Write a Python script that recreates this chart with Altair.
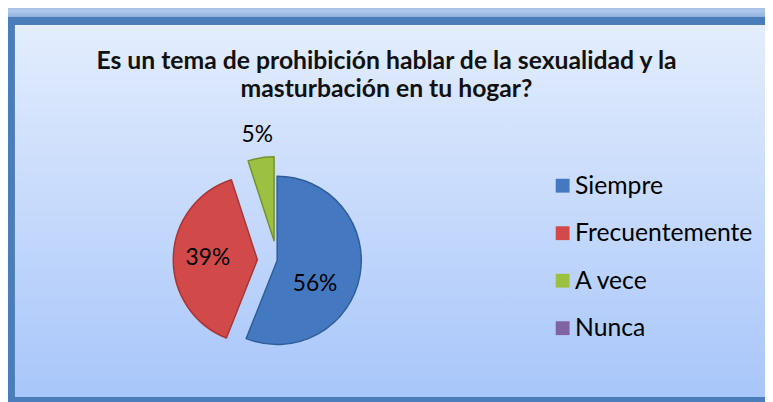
import altair as alt
import pandas as pd

# ---- data ----
title_lines = ["Es un tema de prohibición hablar de la sexualidad y la",
               "masturbación en tu hogar?"]
categories = ["Siempre", "Frecuentemente", "A vece", "Nunca"]
values = [56, 39, 5, 0]

# ---- styles ----
colors = ["#4479c2", "#d2494a", "#9cc142", "#8064a2"]
edge_colors = ["#2f5d99", "#a83634", "#73912d", "#5e4a7d"]
explode = [0, 20, 20, 0]          # px the slice is pulled out
label_radius = [45, 50, 108, 0]   # px from slice apex
label_turn = [21, 0, 0, 0]        # degrees turned from mid angle
FONT = "Lato"

W, H = 765, 394
CX, CY, R = 272, 253, 85

df = pd.DataFrame({
    "cat": categories, "value": values, "ord": list(range(len(categories))),
    "explode": explode, "lr": label_radius, "turn": label_turn,
})

base = alt.Chart(df).transform_joinaggregate(
    total="sum(value)"
).transform_window(
    cum="sum(value)", sort=[alt.SortField("ord")], frame=[None, 0]
).transform_calculate(
    t0="2*PI*(datum.cum - datum.value)/datum.total",
    t1="2*PI*datum.cum/datum.total",
    mid="(datum.t0 + datum.t1)/2",
    px=f"{CX} + datum.explode*sin(datum.mid)",
    py=f"{CY} - datum.explode*cos(datum.mid)",
    la="datum.mid + datum.turn*PI/180",
    lx="datum.px + datum.lr*sin(datum.la)",
    ly="datum.py - datum.lr*cos(datum.la)",
    label="datum.value + '%'",
)

pos = dict(
    theta=alt.Theta("t0:Q", scale=None),
    theta2="t1:Q",
    x=alt.X("px:Q", scale=None, axis=None, stack=None),
    y=alt.Y("py:Q", scale=None, axis=None, stack=None),
)

arcs = base.transform_filter("datum.value > 0").mark_arc(
    outerRadius=R, strokeWidth=1.5, strokeJoin="round"
).encode(
    color=alt.Color(
        "cat:N",
        scale=alt.Scale(domain=categories, range=colors),
        sort=categories,
        legend=alt.Legend(
            orient="none", legendX=548, legendY=165, title=None,
            symbolType="square", symbolSize=196, symbolStrokeWidth=0,
            labelFont=FONT, labelFontSize=25, labelColor="#000000",
            labelOffset=0, rowPadding=22, labelLimit=400,
        ),
    ),
    stroke=alt.Stroke("cat:N", scale=alt.Scale(domain=categories, range=edge_colors),
                      legend=None),
    **pos,
)

labels = base.transform_filter("datum.value > 0").mark_text(
    font=FONT, fontSize=23, color="#000000"
).encode(
    x=alt.X("lx:Q", scale=None, axis=None, stack=None),
    y=alt.Y("ly:Q", scale=None, axis=None, stack=None),
    text="label:N",
)

dummy = alt.Chart(pd.DataFrame({"a": [0]}))
top_band = dummy.mark_rect(
    fill=alt.LinearGradient(gradient="linear", x1=0, y1=0, x2=0, y2=1,
                            stops=[alt.GradientStop(offset=0, color="#b3cbec"),
                                   alt.GradientStop(offset=1, color="#8fb0dd")])
).encode(x=alt.value(0), x2=alt.value(W + 20), y=alt.value(0), y2=alt.value(7))
border = dummy.mark_rect(fill="#4a7ebb").encode(
    x=alt.value(0), x2=alt.value(W + 20), y=alt.value(7), y2=alt.value(H + 20))
inner = dummy.mark_rect(
    fill=alt.LinearGradient(gradient="linear", x1=0, y1=0, x2=0, y2=1,
                            stops=[alt.GradientStop(offset=0, color="#e3edfd"),
                                   alt.GradientStop(offset=1, color="#a8c6fa")])
).encode(x=alt.value(7), x2=alt.value(W + 20), y=alt.value(15), y2=alt.value(H - 3))
bottom = dummy.mark_rect(fill="#4a7ebb").encode(
    x=alt.value(7), x2=alt.value(W + 20), y=alt.value(H - 3), y2=alt.value(H + 20))

chart = alt.layer(top_band, border, inner, bottom, arcs, labels).properties(
    width=W, height=H, padding=0,
    autosize=alt.AutoSizeParams(type="none"),
    background="#a8c2e6",
    title=alt.TitleParams(
        text=title_lines, font=FONT, fontSize=25, fontWeight="bold",
        color="#111111", anchor="middle", frame="group", baseline="top",
        offset=0, dy=93, lineHeight=28,
    ),
).configure_view(stroke=None)

chart.save("out.html", embed_options={"renderer": "svg", "actions": False})
